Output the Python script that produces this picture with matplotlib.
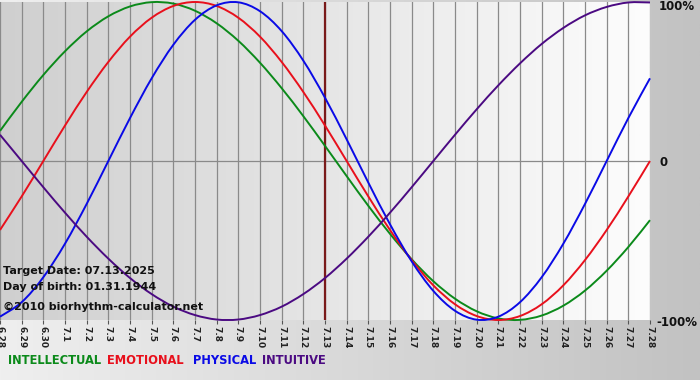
import numpy as np
import matplotlib
matplotlib.use("Agg")
import matplotlib.pyplot as plt
from matplotlib.colors import LinearSegmentedColormap
from matplotlib.path import Path
from matplotlib.patches import PathPatch

dates = ["6.28", "6.29", "6.30", "7.1", "7.2", "7.3", "7.4", "7.5", "7.6", "7.7",
         "7.8", "7.9", "7.10", "7.11", "7.12", "7.13", "7.14", "7.15", "7.16", "7.17",
         "7.18", "7.19", "7.20", "7.21", "7.22", "7.23", "7.24", "7.25", "7.26", "7.27", "7.28"]

intellectual = [0.189, 0.372, 0.541, 0.690, 0.815, 0.910, 0.972, 0.999, 0.990, 0.945,
                0.866, 0.756, 0.618, 0.458, 0.282, 0.095, -0.095, -0.282, -0.458, -0.618,
                -0.756, -0.866, -0.945, -0.990, -0.999, -0.972, -0.910, -0.815, -0.690, -0.541, -0.372]
emotional = [-0.434, -0.223, 0.0, 0.223, 0.434, 0.623, 0.782, 0.901, 0.975, 1.0,
             0.975, 0.901, 0.782, 0.623, 0.434, 0.223, 0.0, -0.223, -0.434, -0.623,
             -0.782, -0.901, -0.975, -1.0, -0.975, -0.901, -0.782, -0.623, -0.434, -0.223, 0.0]
physical = [-0.979, -0.888, -0.731, -0.520, -0.270, 0.0, 0.270, 0.520, 0.731, 0.888,
            0.979, 0.998, 0.942, 0.817, 0.631, 0.398, 0.136, -0.136, -0.398, -0.631,
            -0.817, -0.942, -0.998, -0.979, -0.888, -0.731, -0.520, -0.270, 0.0, 0.270, 0.520]
intuitive = [0.165, 0.0, -0.165, -0.325, -0.476, -0.614, -0.736, -0.837, -0.916, -0.969,
             -0.997, -0.997, -0.969, -0.916, -0.837, -0.736, -0.614, -0.476, -0.325, -0.165,
             0.0, 0.165, 0.325, 0.476, 0.614, 0.736, 0.837, 0.916, 0.969, 0.997, 0.997]

target_label = "7.13"
series_names = ["INTELLECTUAL", "EMOTIONAL", "PHYSICAL", "INTUITIVE"]
colors = ["#0b8a1a", "#e8101c", "#0a0ae6", "#4b0a82"]
info_lines = ["Target Date: 07.13.2025", "Day of birth: 01.31.1944", "\u00a92010 biorhythm-calculator.net"]


def smooth_path(xv, yv):
    """Catmull-Rom curve through the data points, drawn as cubic Bezier segments."""
    xv = np.asarray(xv, float)
    yv = np.asarray(yv, float)
    verts = [(xv[0], yv[0])]
    codes = [Path.MOVETO]
    n = len(xv)
    for i in range(n - 1):
        p0 = np.array([xv[max(i - 1, 0)], yv[max(i - 1, 0)]])
        p1 = np.array([xv[i], yv[i]])
        p2 = np.array([xv[i + 1], yv[i + 1]])
        p3 = np.array([xv[min(i + 2, n - 1)], yv[min(i + 2, n - 1)]])
        c1 = p1 + (p2 - p0) / 6.0
        c2 = p2 - (p3 - p1) / 6.0
        verts += [tuple(c1), tuple(c2), tuple(p2)]
        codes += [Path.CURVE4] * 3
    return Path(verts, codes)


W, H = 700, 380
fig = plt.figure(figsize=(W / 100, H / 100), dpi=100)

# figure background gradient
bg = fig.add_axes([0, 0, 1, 1])
grad = np.linspace(0, 1, 256)[None, :]
cm_bg = LinearSegmentedColormap.from_list("bg", ["#efefef", "#c2c2c2"])
bg.imshow(grad, aspect="auto", cmap=cm_bg, extent=[0, 1, 0, 1])
bg.set_axis_off()

# plot area: x 0..650 px, y 2..320 px
left, right, top, bottom = 0, 650, 2, 320
ax = fig.add_axes([left / W, 1 - bottom / H, (right - left) / W, (bottom - top) / H])
x = np.arange(len(dates))
cm_pl = LinearSegmentedColormap.from_list("pl", ["#cfcfcf", "#fdfdfd"])
ax.imshow(grad, aspect="auto", cmap=cm_pl, extent=[0, len(dates) - 1, -1, 1], zorder=0)

for xi in x:
    ax.axvline(xi, color="#8a8a8a", lw=0.9, zorder=1)
ax.axhline(0, color="#8a8a8a", lw=0.9, zorder=1)

ti = dates.index(target_label)
ax.axvline(ti, color="#7a1a1a", lw=1.6, zorder=2)

for vals, c in zip([intellectual, emotional, physical, intuitive], colors):
    patch = PathPatch(smooth_path(x, vals), facecolor="none", edgecolor=c, lw=1.4,
                      zorder=3, joinstyle="round", clip_on=False)
    ax.add_patch(patch)

ax.set_xlim(0, len(dates) - 1)
ax.set_ylim(-1, 1)
for s in ax.spines.values():
    s.set_visible(False)
ax.set_yticks([])
ax.set_xticks(x)
ax.set_xticklabels(dates, rotation=270, fontsize=6.5, fontweight="bold", color="#222222")
ax.tick_params(axis="x", length=3, width=0.8, color="#555555", pad=1)

# right side labels
fig.text(659 / W, 1 - 7 / H, "100%", fontsize=8.5, fontweight="bold", ha="left", va="center", color="#111111")
fig.text(659 / W, 1 - 162 / H, "0", fontsize=8.5, fontweight="bold", ha="left", va="center", color="#111111")
fig.text(656 / W, 1 - 322 / H, "-100%", fontsize=8.5, fontweight="bold", ha="left", va="center", color="#111111")

# info text
for t, yy in zip(info_lines, [271, 287, 307]):
    fig.text(3 / W, 1 - yy / H, t, fontsize=8, fontweight="bold", ha="left", va="center", color="#111111", zorder=5)

# legend text
xs = [8, 107, 193, 262]
for name, c, xx in zip(series_names, colors, xs):
    fig.text(xx / W, 1 - 361 / H, name, fontsize=8.3, fontweight="bold", ha="left", va="center", color=c)

fig.savefig("out.png", dpi=100)
